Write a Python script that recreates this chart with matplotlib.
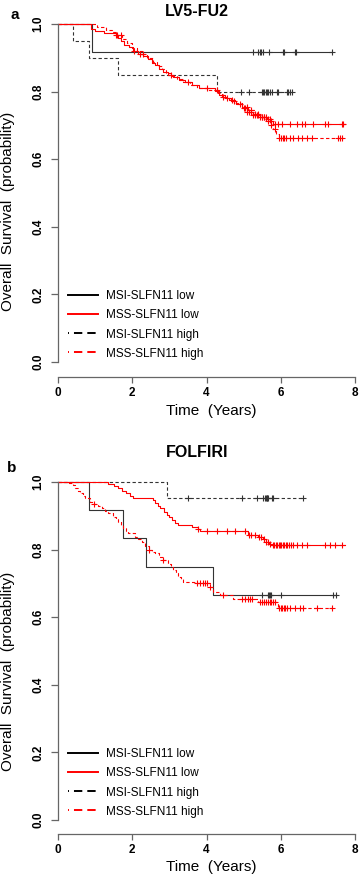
import numpy as np
import matplotlib
matplotlib.use('Agg')
from matplotlib import pyplot as plt
from matplotlib.lines import Line2D

plt.rcParams['font.family'] = ['Liberation Sans', 'DejaVu Sans']
plt.rcParams['lines.scale_dashes'] = False

W, H = 359, 876

# ---- panel a: LV5-FU2 ----
a_msi_low_t = [0.91]
a_msi_low_s = [0.917]
a_msi_low_end = 7.37
a_msi_low_cens = [5.26, 5.38, 5.43, 5.46, 5.52, 5.68, 6.05, 6.10, 6.38, 6.42, 7.37]

a_mss_low_t = [0.88, 1.00, 1.25, 1.55, 1.62, 1.70, 1.78, 1.90, 2.02, 2.15, 2.30, 2.42, 2.52, 2.62,
               2.72, 2.82, 2.95, 3.10, 3.25, 3.42, 3.60, 3.80, 4.22, 4.35, 4.50, 4.65, 4.80, 4.95,
               5.10, 5.25, 5.45, 5.62, 5.72, 5.80]
a_mss_low_s = [0.985, 0.979, 0.973, 0.966, 0.959, 0.949, 0.939, 0.932, 0.919, 0.912, 0.904, 0.895,
               0.886, 0.878, 0.868, 0.858, 0.850, 0.842, 0.835, 0.828, 0.820, 0.811, 0.803, 0.790,
               0.781, 0.772, 0.762, 0.750, 0.740, 0.732, 0.726, 0.720, 0.712, 0.704]
a_mss_low_end = 7.72
a_mss_low_cens = [1.55, 1.60, 2.05, 2.20, 3.05, 3.50, 4.00, 4.55, 4.75, 4.90, 5.00, 5.05, 5.10, 5.15,
                  5.20, 5.25, 5.30, 5.35, 5.40, 5.45, 5.50, 5.55, 5.60, 5.65, 5.70, 5.75, 5.85, 5.93,
                  6.03, 6.25, 6.43, 6.56, 6.65, 6.88, 7.19, 7.28, 7.64, 7.68]

a_msi_high_t = [0.41, 0.84, 1.62, 4.27]
a_msi_high_s = [0.95, 0.90, 0.85, 0.80]
a_msi_high_end = 6.30
a_msi_high_cens = [4.92, 5.15, 5.50, 5.53, 5.56, 5.60, 5.63, 5.67, 5.72, 5.76, 5.89, 5.93, 6.16,
                   6.20, 6.26, 6.30]

a_mss_high_t = [1.05, 1.30, 1.45, 1.60, 1.72, 1.85, 2.00, 2.12, 2.25, 2.40, 2.55, 2.68, 2.80, 2.92,
                3.05, 3.20, 3.38, 3.55, 3.75, 4.00, 4.30, 4.42, 4.60, 4.78, 4.95, 5.12, 5.30, 5.45,
                5.60, 5.72, 5.80, 5.88, 5.95]
a_mss_high_s = [0.990, 0.983, 0.976, 0.966, 0.955, 0.944, 0.930, 0.921, 0.912, 0.900, 0.889, 0.876,
                0.866, 0.856, 0.846, 0.836, 0.828, 0.820, 0.812, 0.805, 0.795, 0.785, 0.775, 0.765,
                0.755, 0.745, 0.735, 0.725, 0.712, 0.700, 0.688, 0.675, 0.662]
a_mss_high_end = 7.68
a_mss_high_cens = [1.70, 2.30, 4.27, 4.45, 4.70, 5.10, 5.20, 5.30, 5.40, 5.50, 5.55, 5.65, 5.75,
                   5.85, 5.95, 6.00, 6.05, 6.10, 6.15, 6.25, 6.34, 6.47, 6.56, 6.70, 6.83, 7.55,
                   7.60, 7.64]

# ---- panel b: FOLFIRI ----
b_msi_low_t = [0.84, 1.74, 2.37, 4.18]
b_msi_low_s = [0.917, 0.833, 0.750, 0.667]
b_msi_low_end = 7.49
b_msi_low_cens = [5.49, 5.66, 5.69, 5.71, 5.73, 6.02, 7.42, 7.49]

b_mss_low_t = [1.36, 1.50, 1.62, 1.72, 1.82, 1.93, 2.03, 2.57, 2.62, 2.70, 2.76, 2.85, 2.93, 3.00,
               3.06, 3.15, 3.24, 3.60, 3.78, 3.82, 5.12, 5.40, 5.53, 5.60, 5.68, 5.75]
b_mss_low_s = [0.995, 0.988, 0.981, 0.974, 0.967, 0.960, 0.954, 0.946, 0.937, 0.929, 0.922, 0.912,
               0.902, 0.895, 0.888, 0.880, 0.873, 0.868, 0.860, 0.855, 0.843, 0.838, 0.830, 0.823,
               0.818, 0.814]
b_mss_low_end = 7.72
b_mss_low_cens = [3.78, 4.00, 4.27, 4.54, 4.77, 5.05, 5.15, 5.20, 5.30, 5.42, 5.48, 5.55, 5.60,
                  5.65, 5.70, 5.78, 5.82, 5.86, 5.90, 5.94, 5.98, 6.02, 6.06, 6.10, 6.14, 6.18,
                  6.22, 6.27, 6.33, 6.43, 6.56, 6.70, 7.19, 7.33, 7.46, 7.64]

b_msi_high_t = [2.93]
b_msi_high_s = [0.952]
b_msi_high_end = 6.59
b_msi_high_cens = [3.49, 4.95, 5.35, 5.53, 5.58, 5.60, 5.62, 5.64, 5.67, 5.76, 5.80, 6.59]

b_mss_high_t = [0.30, 0.40, 0.46, 0.53, 0.59, 0.66, 0.73, 0.86, 0.98, 1.08, 1.18, 1.27, 1.36, 1.49,
                1.55, 1.62, 1.69, 1.76, 1.82, 1.89, 2.07, 2.16, 2.25, 2.35, 2.46, 2.54, 2.61, 2.72,
                2.84, 2.97, 3.04, 3.11, 3.18, 3.24, 3.31, 3.38, 3.69, 4.09, 4.18, 4.36, 4.72, 5.40,
                5.93]
b_mss_high_s = [0.996, 0.990, 0.981, 0.974, 0.967, 0.960, 0.952, 0.942, 0.934, 0.928, 0.922, 0.915,
                0.907, 0.897, 0.890, 0.883, 0.873, 0.863, 0.855, 0.848, 0.838, 0.830, 0.823, 0.812,
                0.800, 0.794, 0.789, 0.779, 0.769, 0.757, 0.748, 0.740, 0.730, 0.720, 0.712, 0.705,
                0.700, 0.688, 0.675, 0.666, 0.654, 0.646, 0.626]
b_mss_high_end = 7.37
b_mss_high_cens = [0.98, 2.46, 2.84, 3.74, 3.82, 3.90, 3.96, 4.00, 4.10, 4.45, 4.95, 5.05, 5.12,
                   5.17, 5.22, 5.45, 5.50, 5.55, 5.60, 5.65, 5.70, 5.75, 5.80, 5.85, 5.96, 6.00,
                   6.04, 6.08, 6.12, 6.16, 6.25, 6.38, 6.52, 6.61, 6.97, 7.37]

labels = ['MSI-SLFN11 low', 'MSS-SLFN11 low', 'MSI-SLFN11 high', 'MSS-SLFN11 high']
yticks = [0.0, 0.2, 0.4, 0.6, 0.8, 1.0]
xticks = [0, 2, 4, 6, 8]

BLACK = '#333333'
RED = '#ff0000'
AXIS = '#666666'
DASH = (0, (2.4, 1.7))


def km(ax, times, surv, end, cens, color, ls):
    t = np.r_[0, times, end]
    s = np.r_[1, surv, surv[-1]]
    ax.step(t, s, where='post', color=color, linestyle=ls, lw=0.8, clip_on=False)
    idx = np.searchsorted(times, cens, side='right')
    cy = np.r_[1, surv][idx]
    ax.plot(cens, cy, '+', color=color, ms=5, mew=0.8, clip_on=False)


def panel(top_px, axis_gap, curves):
    ax = fig.add_axes([58 / W, 1 - (top_px + 338) / H, 297 / W, 338 / H])
    ax.set_xlim(0, 8)
    ax.set_ylim(0, 1)
    for c in curves:
        km(ax, *c)
    for side in ['top', 'right']:
        ax.spines[side].set_visible(False)
    ax.spines['left'].set_bounds(0, 1)
    ax.spines['bottom'].set_position(('outward', axis_gap * 0.72))
    ax.spines['bottom'].set_bounds(0, 8)
    for side in ['left', 'bottom']:
        ax.spines[side].set_color(AXIS)
        ax.spines[side].set_linewidth(0.9)
    ax.set_yticks(yticks)
    ax.set_yticklabels([f'{v:.1f}' for v in yticks], rotation=90, va='center', fontweight='bold')
    ax.set_xticks(xticks)
    ax.set_xticklabels([str(v) for v in xticks], fontweight='bold')
    ax.tick_params(axis='y', length=5, width=0.9, color=AXIS, pad=5, labelsize=8.5)
    ax.tick_params(axis='x', length=4.3, width=0.9, color=AXIS, pad=3, labelsize=8.5)

    handles = [
        Line2D([], [], color='black', lw=1.4),
        Line2D([], [], color=RED, lw=1.4),
        Line2D([], [], color='black', lw=1.4, linestyle=(5.3, (6.0, 3.6))),
        Line2D([], [], color=RED, lw=1.4, linestyle=(5.3, (6.0, 3.6))),
    ]
    ax.legend(handles, labels, loc='upper left', bbox_to_anchor=(0.034, 0.212), frameon=False,
              borderpad=0, borderaxespad=0, handlelength=2.5, handletextpad=0.75,
              labelspacing=0.6, fontsize=8.5)
    return ax


fig = plt.figure(figsize=(W / 100, H / 100), dpi=100)

panel(24, 15, [
    (a_msi_low_t, a_msi_low_s, a_msi_low_end, a_msi_low_cens, BLACK, '-'),
    (a_msi_high_t, a_msi_high_s, a_msi_high_end, a_msi_high_cens, BLACK, DASH),
    (a_mss_high_t, a_mss_high_s, a_mss_high_end, a_mss_high_cens, RED, DASH),
    (a_mss_low_t, a_mss_low_s, a_mss_low_end, a_mss_low_cens, RED, '-'),
])
panel(482, 14, [
    (b_msi_low_t, b_msi_low_s, b_msi_low_end, b_msi_low_cens, BLACK, '-'),
    (b_msi_high_t, b_msi_high_s, b_msi_high_end, b_msi_high_cens, BLACK, DASH),
    (b_mss_high_t, b_mss_high_s, b_mss_high_end, b_mss_high_cens, RED, DASH),
    (b_mss_low_t, b_mss_low_s, b_mss_low_end, b_mss_low_cens, RED, '-'),
])


def ftext(x, y, s, **kw):
    fig.text(x / W, 1 - y / H, s, ha='center', va='center', **kw)


ftext(197, 11, 'LV5-FU2', fontsize=11.5, fontweight='bold')
ftext(15, 15, 'a', fontsize=11, fontweight='bold')
ftext(211, 411, 'Time  (Years)', fontsize=11)
ftext(8, 211, 'Overall  Survival  (probability)', fontsize=11, rotation=90)

ftext(197, 453, 'FOLFIRI', fontsize=11.5, fontweight='bold')
ftext(12, 468, 'b', fontsize=11, fontweight='bold')
ftext(211, 867, 'Time  (Years)', fontsize=11)
ftext(8, 671, 'Overall  Survival  (probability)', fontsize=11, rotation=90)

fig.savefig('out.png', dpi=100)
